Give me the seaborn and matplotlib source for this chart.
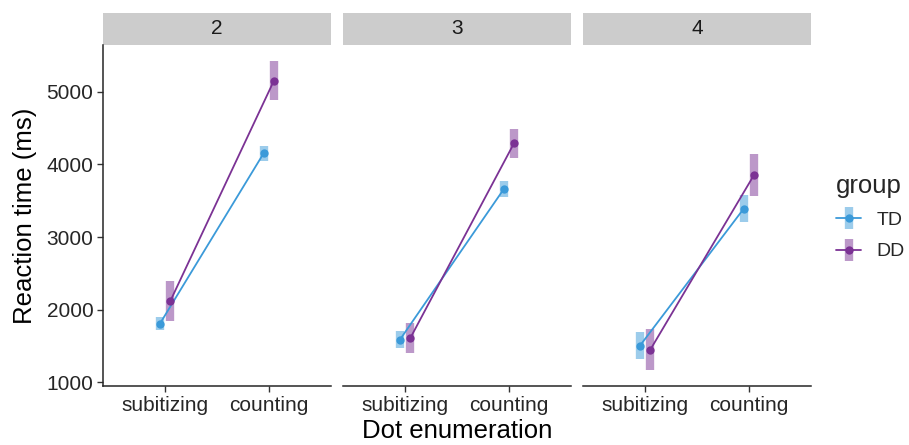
import numpy as np
import pandas as pd
import matplotlib
matplotlib.use("Agg")
import matplotlib.pyplot as plt
import seaborn as sns
from matplotlib.patches import Rectangle
from matplotlib.lines import Line2D

sns.set_theme(style="ticks")
plt.rcParams['font.family'] = ['Liberation Sans', 'DejaVu Sans']

# data
set_sizes = ["2", "3", "4"]
conditions = ["subitizing", "counting"]
groups = ["TD", "DD"]

td_mean = [[1810, 4154], [1589, 3658], [1506, 3390]]
td_err = [[95, 105], [115, 110], [190, 185]]
dd_mean = [[2121, 5156], [1611, 4292], [1451, 3855]]
dd_err = [[275, 275], [205, 200], [280, 290]]

colors = {"TD": "#3b9ad9", "DD": "#7b3294"}

rows = []
for i, s in enumerate(set_sizes):
    for j, c in enumerate(conditions):
        rows.append(dict(setsize=s, cond=c, group="TD", rt=td_mean[i][j], err=td_err[i][j]))
        rows.append(dict(setsize=s, cond=c, group="DD", rt=dd_mean[i][j], err=dd_err[i][j]))
df = pd.DataFrame(rows)
df["x"] = df["cond"].map({c: k for k, c in enumerate(conditions)})
df["x"] = df["x"] + df["group"].map({"TD": -0.05, "DD": 0.05})

fig = plt.figure(figsize=(9.09, 4.45), dpi=100)
W, H = 909, 445
lefts = [103, 343, 583]
pw = 228
top, bottom = 45, 386
axes = []
for k, s in enumerate(set_sizes):
    ax = fig.add_axes([lefts[k] / W, 1 - bottom / H, pw / W, (bottom - top) / H])
    axes.append(ax)
    sub = df[df["setsize"] == s]
    for g in groups:
        d = sub[sub["group"] == g]
        ax.errorbar(d["x"], d["rt"], yerr=d["err"], fmt="none", ecolor=colors[g],
                    elinewidth=6, alpha=0.5, capsize=0, zorder=2)
    sns.lineplot(data=sub, x="x", y="rt", hue="group", hue_order=groups,
                 palette=colors, marker="o", markersize=6, markeredgewidth=0,
                 linewidth=1.3, legend=False, ax=ax, zorder=3, sort=False)
    ax.set_xlim(-0.6, 1.6)
    ax.set_ylim(950, 5645)
    ax.set_xticks([0, 1])
    ax.set_xticklabels(conditions)
    ax.set_yticks([1000, 2000, 3000, 4000, 5000])
    ax.tick_params(axis="both", length=4, width=1, color="#333333", labelsize=15,
                   labelcolor="#262626", pad=3)
    ax.set_xlabel("")
    ax.set_ylabel("")
    for sp in ["top", "right"]:
        ax.spines[sp].set_visible(False)
    ax.spines["bottom"].set_linewidth(1.1)
    ax.spines["left"].set_linewidth(1.1)
    if k > 0:
        ax.spines["left"].set_visible(False)
        ax.tick_params(axis="y", left=False, labelleft=False)
    # facet strip
    sh = (top - 13) / (bottom - top)
    ax.add_patch(Rectangle((0, 1.0), 1, sh, transform=ax.transAxes,
                           facecolor="#cccccc", edgecolor="none", clip_on=False))
    ax.text(0.5, 1.0 + sh / 2, s, transform=ax.transAxes, ha="center", va="center",
            fontsize=15, color="#1a1a1a")

axes[0].set_ylabel("Reaction time (ms)", fontsize=18.5, color="black", labelpad=7)
axes[1].set_xlabel("Dot enumeration", fontsize=18.5, color="black", labelpad=3)

handles = []
for g in groups:
    bar = Line2D([0], [0], color=colors[g], alpha=0.5, marker="|", markersize=16,
                 markeredgewidth=6, linestyle="none")
    pt = Line2D([0], [0], color=colors[g], marker="o", markersize=6,
                markeredgewidth=0, lw=1.3)
    handles.append((bar, pt))
leg = fig.legend(handles, groups, title="group", loc="upper left",
                 bbox_to_anchor=(836 / W, 1 - 174 / H), frameon=False, fontsize=14,
                 title_fontsize=18.5, handlelength=1.3, handletextpad=0.8,
                 labelspacing=0.7, borderpad=0, borderaxespad=0, alignment="left")

fig.savefig("out.png", dpi=100)
